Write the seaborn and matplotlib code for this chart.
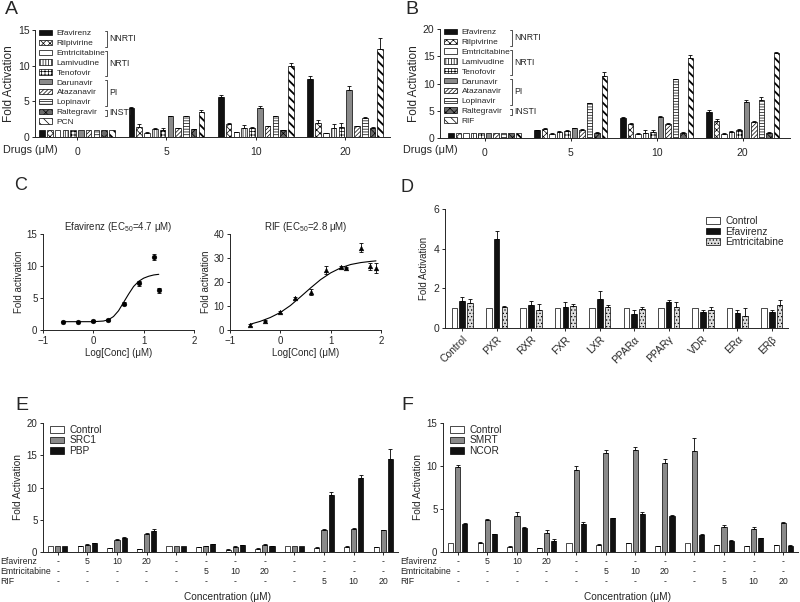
import numpy as np
import pandas as pd
import seaborn as sns
import matplotlib.pyplot as plt
from matplotlib.patches import Patch
from matplotlib.lines import Line2D
from matplotlib.transforms import blended_transform_factory

# ---- data ----
concs = ['0', '5', '10', '20']
drugs_a = ['Efavirenz', 'Rilpivirine', 'Emtricitabine', 'Lamivudine', 'Tenofovir',
           'Darunavir', 'Atazanavir', 'Lopinavir', 'Raltegravir', 'PCN']
drugs_b = drugs_a[:-1] + ['RIF']
drug_classes = [('NNRTI', 0, 1), ('NRTI', 2, 4), ('PI', 5, 7), ('INSTI', 8, 8)]

# panel A - means per concentration, in drug order
a_mean_0 = [1, 1, 1, 1, 1, 1, 1, 1, 1, 1]
a_mean_5 = [4.1, 1.4, 0.6, 1.1, 1.0, 2.9, 1.2, 2.9, 1.1, 3.5]
a_mean_10 = [5.6, 1.8, 0.7, 1.3, 1.2, 4.1, 1.5, 2.9, 1.0, 9.9]
a_mean_20 = [8.2, 1.9, 0.5, 1.3, 1.4, 6.6, 1.5, 2.6, 1.3, 12.4]
a_sem_0 = [0, 0, 0, 0, 0, 0, 0, 0, 0, 0]
a_sem_5 = [0.15, 0.45, 0.05, 0.2, 0.3, 0.1, 0.1, 0.1, 0.05, 0.35]
a_sem_10 = [0.3, 0.2, 0.05, 0.45, 0.2, 0.3, 0.1, 0.1, 0.05, 0.5]
a_sem_20 = [0.4, 0.45, 0.05, 0.5, 0.5, 0.5, 0.1, 0.2, 0.05, 1.5]

# panel B
b_mean_0 = [1, 1, 1, 1, 1, 1, 1, 1, 1, 1]
b_mean_5 = [1.4, 1.6, 0.8, 1.1, 1.2, 1.8, 1.5, 6.4, 1.0, 11.3]
b_mean_10 = [3.7, 2.5, 0.8, 1.0, 1.1, 3.9, 2.6, 10.8, 1.0, 14.7]
b_mean_20 = [4.8, 3.2, 0.8, 1.1, 1.5, 6.6, 3.0, 7.0, 1.0, 15.6]
b_sem_0 = [0, 0, 0, 0, 0, 0, 0, 0, 0, 0]
b_sem_5 = [0.1, 0.2, 0.05, 0.1, 0.3, 0.1, 0.1, 0.1, 0.05, 0.8]
b_sem_10 = [0.1, 0.2, 0.05, 0.5, 0.3, 0.1, 0.1, 0.1, 0.05, 0.5]
b_sem_20 = [0.3, 0.3, 0.05, 0.1, 0.2, 0.4, 0.1, 0.5, 0.05, 0.2]

# panel C dose response
efv_logc = [-0.6, -0.3, 0.0, 0.3, 0.6, 0.9, 1.2, 1.3]
efv_fold = [1.3, 1.3, 1.4, 1.5, 4.1, 7.3, 11.4, 6.2]
efv_sem = [0.1, 0.1, 0.1, 0.15, 0.2, 0.4, 0.4, 0.4]
efv_fit_x = [-0.6, -0.3, 0.0, 0.2, 0.3, 0.4, 0.5, 0.6, 0.7, 0.8, 0.9, 1.0, 1.1, 1.2, 1.3]
efv_fit_y = [1.3, 1.3, 1.3, 1.4, 1.6, 2.1, 3.0, 4.3, 5.6, 6.8, 7.6, 8.1, 8.4, 8.6, 8.7]
rif_logc = [-0.6, -0.3, 0.0, 0.3, 0.6, 0.9, 1.2, 1.3, 1.6, 1.78, 1.9]
rif_fold = [2.1, 3.9, 7.4, 13.3, 15.9, 25.0, 26.1, 26.0, 34.3, 26.5, 25.8]
rif_sem = [0.3, 0.3, 0.4, 0.4, 1.2, 1.5, 0.4, 0.3, 2.0, 1.5, 2.0]
rif_fit_x = [-0.6, -0.4, -0.2, 0.0, 0.2, 0.4, 0.6, 0.8, 1.0, 1.2, 1.4, 1.6, 1.8, 1.9]
rif_fit_y = [2.4, 3.6, 5.2, 7.3, 10.2, 13.8, 17.5, 21.0, 23.8, 25.9, 27.3, 28.1, 28.6, 28.8]

# panel D receptor screen
receptors = ['Control', 'PXR', 'RXR', 'FXR', 'LXR', 'PPARα', 'PPARγ', 'VDR', 'ERα', 'ERβ']
d_series = ['Control', 'Efavirenz', 'Emtricitabine']
d_control = [1, 1, 1, 1, 1, 1, 1, 1, 1, 1]
d_efavirenz = [1.38, 4.5, 1.17, 1.07, 1.45, 0.73, 1.33, 0.82, 0.78, 0.82]
d_emtricitabine = [1.28, 1.07, 0.9, 1.1, 1.07, 0.95, 1.05, 0.93, 0.6, 1.17]
d_control_sem = [0, 0, 0, 0, 0, 0, 0, 0, 0, 0]
d_efavirenz_sem = [0.2, 0.4, 0.18, 0.25, 0.4, 0.2, 0.1, 0.1, 0.12, 0.08]
d_emtricitabine_sem = [0.17, 0.05, 0.3, 0.1, 0.1, 0.1, 0.25, 0.15, 0.4, 0.22]

# panels E / F coactivator / corepressor
row_efavirenz = ['-', '5', '10', '20', '-', '-', '-', '-', '-', '-', '-', '-']
row_emtricitabine = ['-', '-', '-', '-', '-', '5', '10', '20', '-', '-', '-', '-']
row_rif = ['-', '-', '-', '-', '-', '-', '-', '-', '-', '5', '10', '20']
e_series = ['Control', 'SRC1', 'PBP']
e_control = [1, 0.9, 0.6, 0.4, 1, 0.7, 0.35, 0.5, 1, 0.65, 0.85, 0.7]
e_src1 = [1, 1.15, 1.9, 2.8, 1, 0.95, 0.85, 1.1, 1, 3.45, 3.6, 3.35]
e_pbp = [1, 1.35, 2.2, 3.3, 1, 1.25, 1.1, 0.95, 1, 8.8, 11.5, 14.4]
e_control_sem = [0, 0.05, 0.05, 0.05, 0, 0.05, 0.05, 0.05, 0, 0.05, 0.05, 0.05]
e_src1_sem = [0, 0.05, 0.1, 0.1, 0, 0.05, 0.05, 0.1, 0, 0.1, 0.15, 0.1]
e_pbp_sem = [0, 0.1, 0.2, 0.3, 0, 0.05, 0.05, 0.05, 0, 0.45, 0.5, 1.5]
f_series = ['Control', 'SMRT', 'NCOR']
f_control = [1, 1.05, 0.6, 0.45, 1, 0.85, 1.0, 0.7, 1, 0.8, 0.7, 0.8]
f_smrt = [9.85, 3.75, 4.2, 2.2, 9.5, 11.55, 11.9, 10.35, 11.75, 2.95, 2.65, 3.35]
f_ncor = [3.3, 2.05, 2.75, 1.3, 3.3, 3.9, 4.45, 4.15, 2.0, 1.3, 1.6, 0.75]
f_control_sem = [0, 0.1, 0.05, 0.05, 0, 0.05, 0.1, 0.05, 0, 0.05, 0.05, 0.05]
f_smrt_sem = [0.25, 0.1, 0.45, 0.35, 0.55, 0.35, 0.35, 0.45, 1.55, 0.2, 0.3, 0.15]
f_ncor_sem = [0.1, 0.05, 0.1, 0.25, 0.2, 0.1, 0.2, 0.2, 0.15, 0.1, 0.05, 0.1]

# ---- styling ----
sns.set_theme(style='ticks')
plt.rcParams['font.family'] = ['Liberation Sans', 'DejaVu Sans']
plt.rcParams['mathtext.fontset'] = 'custom'
plt.rcParams['mathtext.rm'] = 'Liberation Sans'
plt.rcParams['axes.linewidth'] = 0.7
plt.rcParams['xtick.major.width'] = 0.7
plt.rcParams['ytick.major.width'] = 0.7
plt.rcParams['xtick.major.size'] = 2.5
plt.rcParams['ytick.major.size'] = 2.5
plt.rcParams['xtick.major.pad'] = 2
plt.rcParams['ytick.major.pad'] = 1.5
plt.rcParams['hatch.linewidth'] = 0.5

GRAY = '#8a8a8a'
drug_face = {'Efavirenz': '#111111', 'Rilpivirine': 'white', 'Emtricitabine': 'white',
             'Lamivudine': 'white', 'Tenofovir': 'white', 'Darunavir': GRAY,
             'Atazanavir': 'white', 'Lopinavir': 'white', 'Raltegravir': '#6a6a6a',
             'PCN': 'white', 'RIF': 'white'}
drug_hatch = {'Efavirenz': None, 'Rilpivirine': 'xxxxx', 'Emtricitabine': None,
              'Lamivudine': '||||||', 'Tenofovir': '+++++', 'Darunavir': None,
              'Atazanavir': '////////', 'Lopinavir': '------', 'Raltegravir': 'xxxx',
              'PCN': '\\\\\\\\', 'RIF': '\\\\\\\\'}
bold_hatch = {'PCN', 'RIF'}

fig = plt.figure(figsize=(8, 6.02), dpi=100)


def px_axes(x0, y0, x1, y1):
    return fig.add_axes([x0 / 800, 1 - y1 / 602, (x1 - x0) / 800, (y1 - y0) / 602])


def ftext(x, y, s, **kw):
    fig.text(x / 800, 1 - y / 602, s, **kw)


def bars(ax, groups, series, means, sems, faces, hatches, width, fill):
    keys = [f'g{i}' for i in range(len(groups))]
    rows = []
    for s, m, e in zip(series, means, sems):
        for k, v, ev in zip(keys, m, e):
            rows.append({'x': k, 's': s, 'y': v, 'e': ev})
    df = pd.DataFrame(rows)
    sns.barplot(data=df, x='x', y='y', hue='s', order=keys, hue_order=series,
                palette=faces, saturation=1, width=width, edgecolor='black',
                linewidth=0.5, errorbar=None, legend=False, ax=ax)
    for s, cont in zip(series, ax.containers):
        sub = df[df.s == s].set_index('x').reindex(keys)
        xs = []
        for bar in cont:
            w = bar.get_width()
            bar.set_x(bar.get_x() + w * (1 - fill) / 2)
            bar.set_width(w * fill)
            if hatches.get(s):
                bar.set_hatch(hatches[s])
                if s in bold_hatch and hasattr(bar, 'set_hatch_linewidth'):
                    bar.set_hatch_linewidth(1.3)
            xs.append(bar.get_x() + bar.get_width() / 2)
        xs = np.array(xs)
        ys = sub['y'].to_numpy()
        es = sub['e'].to_numpy()
        keep = es > 0
        ax.errorbar(xs[keep], ys[keep], yerr=[np.zeros(keep.sum()), es[keep]], fmt='none',
                    ecolor='black', elinewidth=0.6, capsize=1.3, capthick=0.6)
    ax.set_xlabel('')
    sns.despine(ax=ax)


def legend_handles(series, faces, hatches):
    hs = []
    for s in series:
        p = Patch(facecolor=faces[s], edgecolor='black', linewidth=0.5, hatch=hatches.get(s))
        if s in bold_hatch and hasattr(p, 'set_hatch_linewidth'):
            p.set_hatch_linewidth(1.3)
        hs.append(p)
    return hs


# ---- A and B ----
panels_ab = [
    (px_axes(35, 30, 390, 137), drugs_a,
     [a_mean_0, a_mean_5, a_mean_10, a_mean_20], [a_sem_0, a_sem_5, a_sem_10, a_sem_20],
     15, [0, 5, 10, 15], (-0.47, 3.5), 'A', 0),
    (px_axes(440, 29, 790, 138), drugs_b,
     [b_mean_0, b_mean_5, b_mean_10, b_mean_20], [b_sem_0, b_sem_5, b_sem_10, b_sem_20],
     20, [0, 5, 10, 15, 20], (-0.52, 3.55), 'B', 400),
]
ab_legends = []
for ax, drugs, by_conc, sem_by_conc, top, yt, xl, letter, off in panels_ab:
    means = [[m[i] for m in by_conc] for i in range(len(drugs))]
    sems = [[m[i] for m in sem_by_conc] for i in range(len(drugs))]
    bars(ax, concs, drugs, means, sems, drug_face, drug_hatch, 0.87, 0.72)
    ax.set_ylim(0, top)
    ax.set_yticks(yt)
    ax.set_xlim(*xl)
    ax.set_xticks(range(4))
    ax.set_xticklabels(concs)
    ax.tick_params(labelsize=7.5)
    ax.tick_params(axis='x', pad=5)
    ax.set_ylabel('Fold Activation', fontsize=8.5, labelpad=2)
    leg = ax.legend(legend_handles(drugs, drug_face, drug_hatch), drugs, loc='upper left',
                    bbox_to_anchor=(0.0, 1.04), frameon=False, fontsize=6,
                    handlelength=1.5, handleheight=0.6, handletextpad=0.6,
                    labelspacing=0.27, borderpad=0.2, borderaxespad=0.3)
    ab_legends.append(leg)
    ftext(off + 3, 150, 'Drugs (μM)', fontsize=7.8, va='center', ha='left')
    ftext(off + 5, 10, letter, fontsize=14, va='center', ha='left')

# ---- C ----
axc1 = px_axes(43, 234, 194, 330)
axc2 = px_axes(230, 234, 381, 330)
for ax, lx, ly, le, fx_, fy_, mk, ylim, yt, title in [
    (axc1, efv_logc, efv_fold, efv_sem, efv_fit_x, efv_fit_y, 'o', 15, [0, 5, 10, 15],
     r'Efavirenz (EC$_\mathregular{50}$=4.7 μM)'),
    (axc2, rif_logc, rif_fold, rif_sem, rif_fit_x, rif_fit_y, '^', 40, [0, 10, 20, 30, 40],
     r'RIF (EC$_\mathregular{50}$=2.8 μM)'),
]:
    sns.lineplot(x=fx_, y=fy_, color='black', linewidth=0.8, ax=ax)
    ax.errorbar(lx, ly, yerr=le, fmt='none', ecolor='black', elinewidth=0.6, capsize=1.5,
                capthick=0.6)
    sns.scatterplot(x=lx, y=ly, marker=mk, s=12, color='black', edgecolor='black', ax=ax)
    ax.set_xlim(-1, 2)
    ax.set_xticks([-1, 0, 1, 2])
    ax.set_ylim(0, ylim)
    ax.set_yticks(yt)
    ax.tick_params(labelsize=7)
    ax.set_xlabel('Log[Conc] (μM)', fontsize=7, labelpad=1)
    ax.set_ylabel('Fold activation', fontsize=7, labelpad=2)
    ax.set_title(title, fontsize=7, pad=3)
    sns.despine(ax=ax)
ftext(14, 186, 'C', fontsize=13, va='center', ha='left')

# ---- D ----
axd = px_axes(445, 209, 788, 328)
d_face = {'Control': 'white', 'Efavirenz': '#111111', 'Emtricitabine': '#dcdcdc'}
d_hatch = {'Emtricitabine': '.....'}
bars(axd, receptors, d_series, [d_control, d_efavirenz, d_emtricitabine],
     [d_control_sem, d_efavirenz_sem, d_emtricitabine_sem], d_face, d_hatch, 0.68, 0.72)
axd.set_ylim(0, 6)
axd.set_yticks([0, 2, 4, 6])
axd.set_xlim(-0.5, 9.47)
axd.set_xticks(range(10))
axd.set_xticklabels(receptors, rotation=45, ha='right', rotation_mode='anchor')
axd.tick_params(labelsize=7.5)
axd.set_ylabel('Fold Activation', fontsize=7, labelpad=3)
axd.legend(legend_handles(d_series, d_face, d_hatch), d_series, loc='upper left',
           bbox_to_anchor=(0.74, 1.0), frameon=False, fontsize=7.3, handlelength=1.4,
           handleheight=0.6, handletextpad=0.5, labelspacing=0.05, borderpad=0.2)
ftext(401, 188, 'D', fontsize=13, va='center', ha='left')

# ---- E and F ----
for ax_box, series, means, sems, ylim, yt, letter, off in [
    ((43, 423, 398, 552), e_series, [e_control, e_src1, e_pbp],
     [e_control_sem, e_src1_sem, e_pbp_sem], 20, [0, 5, 10, 15, 20], 'E', 0),
    ((443, 423, 798, 552), f_series, [f_control, f_smrt, f_ncor],
     [f_control_sem, f_smrt_sem, f_ncor_sem], 15, [0, 5, 10, 15], 'F', 400),
]:
    ax = px_axes(*ax_box)
    faces = {series[0]: 'white', series[1]: GRAY, series[2]: '#111111'}
    bars(ax, row_efavirenz, series, means, sems, faces, {}, 0.72, 0.72)
    ax.set_ylim(0, ylim)
    ax.set_yticks(yt)
    ax.set_xlim(-0.5, 11.5)
    ax.set_xticks(range(12))
    ax.set_xticklabels([''] * 12)
    ax.tick_params(labelsize=7)
    ax.set_ylabel('Fold Activation', fontsize=7.3, labelpad=3)
    ax.legend(legend_handles(series, faces, {}), series, loc='upper left',
              bbox_to_anchor=(0.0, 1.04), frameon=False, fontsize=7.3, handlelength=1.4,
              handleheight=0.6, handletextpad=0.5, labelspacing=0.05, borderpad=0.2)
    trans = blended_transform_factory(ax.transData, ax.transAxes)
    for row, name, ypx in [(row_efavirenz, 'Efavirenz', 562), (row_emtricitabine, 'Emtricitabine', 572),
                           (row_rif, 'RIF', 582)]:
        ya = (552 - ypx) / 129
        for i, lab in enumerate(row):
            ax.text(i, ya, lab, transform=trans, fontsize=6.3, ha='center', va='center')
        ftext(off + 0.5, ypx, name, fontsize=6.3, va='center', ha='left')
    ftext(off + 228, 597, 'Concentration (μM)', fontsize=7.3, va='center', ha='center')
    ftext(off + 15 if off == 0 else off + 1, 406, letter, fontsize=14, va='center', ha='left')

# ---- drug class brackets next to the A/B legends ----
fig.canvas.draw()
renderer = fig.canvas.get_renderer()
W, H = fig.bbox.width, fig.bbox.height
for leg in ab_legends:
    texts = leg.get_texts()
    xr = max(t.get_window_extent(renderer).x1 for t in texts) + 1.5
    for name, i0, i1 in drug_classes:
        top = texts[i0].get_window_extent(renderer).y1 - 0.5
        bot = texts[i1].get_window_extent(renderer).y0 + 0.5
        xs = np.array([xr - 2, xr, xr, xr - 2]) / W
        ys = np.array([top, top, bot, bot]) / H
        fig.add_artist(Line2D(xs, ys, color='#333333', linewidth=0.6,
                              transform=fig.transFigure))
        fig.text((xr + 2) / W, (top + bot) / 2 / H, name, fontsize=6.3, va='center', ha='left')

fig.savefig('out.png', dpi=100)
